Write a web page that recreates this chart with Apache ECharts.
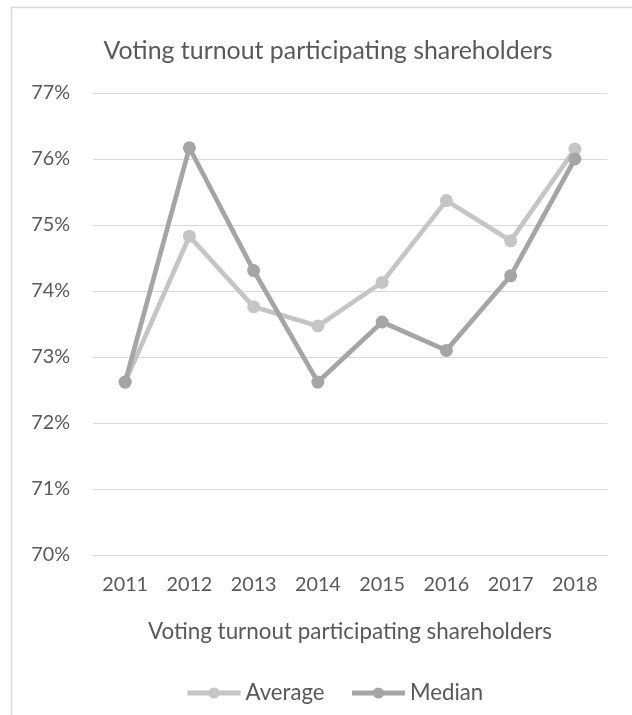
<!DOCTYPE html>
<html>
<head>
<meta charset="utf-8">
<script src="https://cdn.jsdelivr.net/npm/echarts@6/dist/echarts.min.js"></script>
<style>
html,body{margin:0;padding:0;background:#fff;}
#c{width:632px;height:715px;}
</style>
</head>
<body>
<div id="c"></div>
<script>
var titleText = 'Voting turnout participating shareholders';
var axisNameText = 'Voting turnout participating shareholders';
var categories = ['2011','2012','2013','2014','2015','2016','2017','2018'];
var averageValues = [72.62, 74.83, 73.76, 73.47, 74.13, 75.37, 74.76, 76.15];
var medianValues  = [72.62, 76.17, 74.31, 72.62, 73.53, 73.10, 74.23, 76.00];
var yMin = 70, yMax = 77, yInterval = 1;

var FONT = 'Lato';
function fitSize(text, targetWidth) {
  var cv = document.createElement('canvas').getContext('2d');
  cv.font = '100px ' + FONT;
  var w = cv.measureText(text).width;
  return Math.round(100 * targetWidth / w * 10) / 10;
}
var titleSize = fitSize(titleText, 450);
var nameSize = fitSize(axisNameText, 404);
var tickSize = fitSize('2011', 46);
var legendSize = fitSize('Average', 79);

var textColor = '#595959';
var chart = echarts.init(document.getElementById('c'), null, {renderer: 'canvas'});
chart.setOption({
  backgroundColor: '#fff',
  animation: false,
  textStyle: {fontFamily: FONT},
  title: {
    text: titleText,
    left: 323, top: 46 - titleSize * 0.6,
    textAlign: 'center',
    textStyle: {fontFamily: FONT, fontSize: titleSize, fontWeight: 'normal', color: textColor, lineHeight: titleSize * 1.2}
  },
  graphic: [
    {type: 'line', shape: {x1: 11, y1: 7.5, x2: 632, y2: 7.5}, style: {stroke: '#d9d9d9', lineWidth: 1.5}, silent: true},
    {type: 'line', shape: {x1: 11.5, y1: 7, x2: 11.5, y2: 715}, style: {stroke: '#d9d9d9', lineWidth: 1.5}, silent: true}
  ],
  legend: {
    left: 180, top: 684 - 7,
    itemWidth: 53, itemHeight: 14, itemGap: 25,
    lineStyle: {width: 5},
    textStyle: {fontFamily: FONT, fontSize: legendSize, color: textColor},
    data: ['Average', 'Median']
  },
  grid: {left: 93, right: 25, top: 93, bottom: 160, containLabel: false, outerBoundsMode: 'none'},
  xAxis: {
    type: 'category',
    data: categories,
    boundaryGap: true,
    axisLine: {show: true, lineStyle: {color: '#d9d9d9', width: 1}},
    axisTick: {show: false},
    axisLabel: {fontFamily: FONT, fontSize: tickSize, color: textColor, margin: 30 - tickSize/2, lineHeight: tickSize},
    name: axisNameText,
    nameLocation: 'middle',
    nameGap: 77 - nameSize/2,
    nameTextStyle: {fontFamily: FONT, fontSize: nameSize, color: textColor, lineHeight: nameSize, verticalAlign: 'top'}
  },
  yAxis: {
    type: 'value',
    min: yMin, max: yMax, interval: yInterval,
    axisLine: {show: false},
    axisTick: {show: false},
    axisLabel: {formatter: '{value}%', fontFamily: FONT, fontSize: tickSize, color: textColor, margin: 23},
    splitLine: {lineStyle: {color: '#d9d9d9', width: 1}}
  },
  series: [
    {
      name: 'Average', type: 'line', data: averageValues,
      symbol: 'circle', symbolSize: 13,
      lineStyle: {color: '#c4c5c7', width: 4.7},
      itemStyle: {color: '#c4c5c7'},
      z: 2
    },
    {
      name: 'Median', type: 'line', data: medianValues,
      symbol: 'circle', symbolSize: 13,
      lineStyle: {color: '#a5a5a8', width: 4.7},
      itemStyle: {color: '#a5a5a8'},
      z: 3
    }
  ]
});
</script>
</body>
</html>
